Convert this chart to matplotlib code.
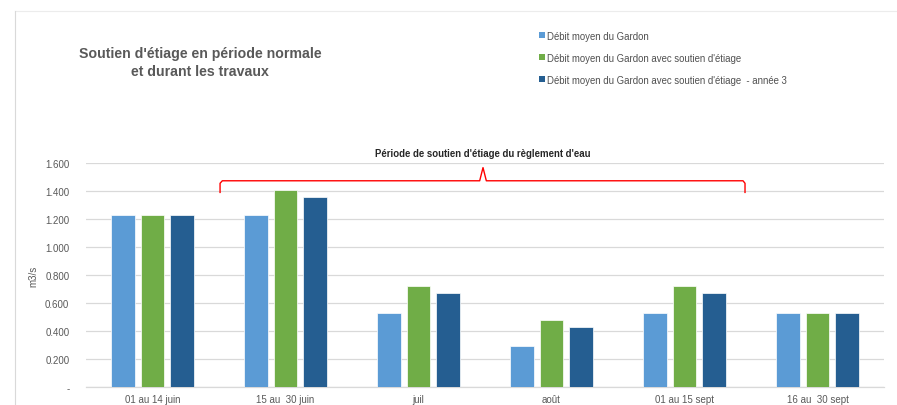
import matplotlib
matplotlib.use("Agg")
import matplotlib.pyplot as plt
from matplotlib.lines import Line2D
from matplotlib.patches import Patch
import numpy as np

plt.rcParams["font.family"] = ["Liberation Sans", "DejaVu Sans"]

categories = ["01 au 14 juin", "15 au  30 juin", "juil", "août", "01 au 15 sept", "16 au  30 sept"]
debit_moyen = [1.23, 1.23, 0.53, 0.29, 0.53, 0.53]
debit_soutien = [1.23, 1.41, 0.72, 0.48, 0.72, 0.53]
debit_soutien_an3 = [1.23, 1.36, 0.67, 0.43, 0.67, 0.53]
series_names = ["Débit moyen du Gardon",
                "Débit moyen du Gardon avec soutien d'étiage",
                "Débit moyen du Gardon avec soutien d'étiage  - année 3"]
colors = ["#5B9BD5", "#70AD47", "#255E91"]
yticks = [0, 0.2, 0.4, 0.6, 0.8, 1.0, 1.2, 1.4, 1.6]
ytick_labels = ["-", "0.200", "0.400", "0.600", "0.800", "1.000", "1.200", "1.400", "1.600"]

W, H = 897, 406
fig = plt.figure(figsize=(W/100, H/100), dpi=100)
fig.patch.set_facecolor("white")

ax = fig.add_axes([86/W, 1-388/H, (884-86)/W, (388-164)/H])
x = np.arange(len(categories))
step = 0.222
width = 0.175
for k, (vals, c) in enumerate(zip([debit_moyen, debit_soutien, debit_soutien_an3], colors)):
    ax.bar(x + (k-1)*step, vals, width=width, color=c, edgecolor="white", linewidth=0.5, zorder=3)

ax.set_xlim(-0.5, len(categories)-0.5)
ax.set_ylim(0, 1.6)
ax.set_yticks(yticks)
ax.set_yticklabels(ytick_labels)
ax.set_xticks(x)
ax.set_xticklabels(categories)
ax.tick_params(axis="both", length=0, labelsize=7, colors="#595959", pad=5)
ax.tick_params(axis="y", pad=12)
ax.grid(axis="y", color="#d9d9d9", linewidth=0.9, zorder=0)
for s in ["top", "right", "left"]:
    ax.spines[s].set_visible(False)
ax.spines["bottom"].set_color("#d9d9d9")
ax.spines["bottom"].set_linewidth(0.9)
ax.set_ylabel("m3/s", fontsize=7, color="#595959")
ax.yaxis.set_label_coords(-0.060, 0.5)

# Red bracket
bx = [0.508, 0.508, 0.525, 2.46, 2.485, 2.51, 4.44, 4.455, 4.455]
by = [1.39, 1.455, 1.473, 1.473, 1.567, 1.473, 1.473, 1.455, 1.39]
ax.plot(bx, by, color="#FF0000", linewidth=1.0, clip_on=False, zorder=4)
ax.text(2.485, 1.67, "Période de soutien d'étiage du règlement d'eau", ha="center", va="center",
        fontsize=6.9, fontweight="bold", color="#262626", clip_on=False)

# Title
fig.text(200/W, 1-63/H, "Soutien d'étiage en période normale\net durant les travaux", ha="center", va="center",
         fontsize=10.2, fontweight="bold", color="#595959", linespacing=1.3)

# Legend
handles = [Patch(facecolor=c, edgecolor="none") for c in colors]
leg = fig.legend(handles, series_names, loc="upper left", bbox_to_anchor=(535/W, 1-28/H),
                 frameon=False, fontsize=6.9, handlelength=0.6, handleheight=0.6,
                 handletextpad=0.25, labelspacing=1.25, borderaxespad=0)
for t in leg.get_texts():
    t.set_color("#505050")

# Border lines
fig.add_artist(Line2D([15/W, 1], [1-12/H, 1-12/H], color="#ececec", linewidth=0.8))
fig.add_artist(Line2D([15/W, 15/W], [0, 1-12/H], color="#d9d9d9", linewidth=0.8))

fig.savefig("out.png", dpi=100, facecolor="white")
